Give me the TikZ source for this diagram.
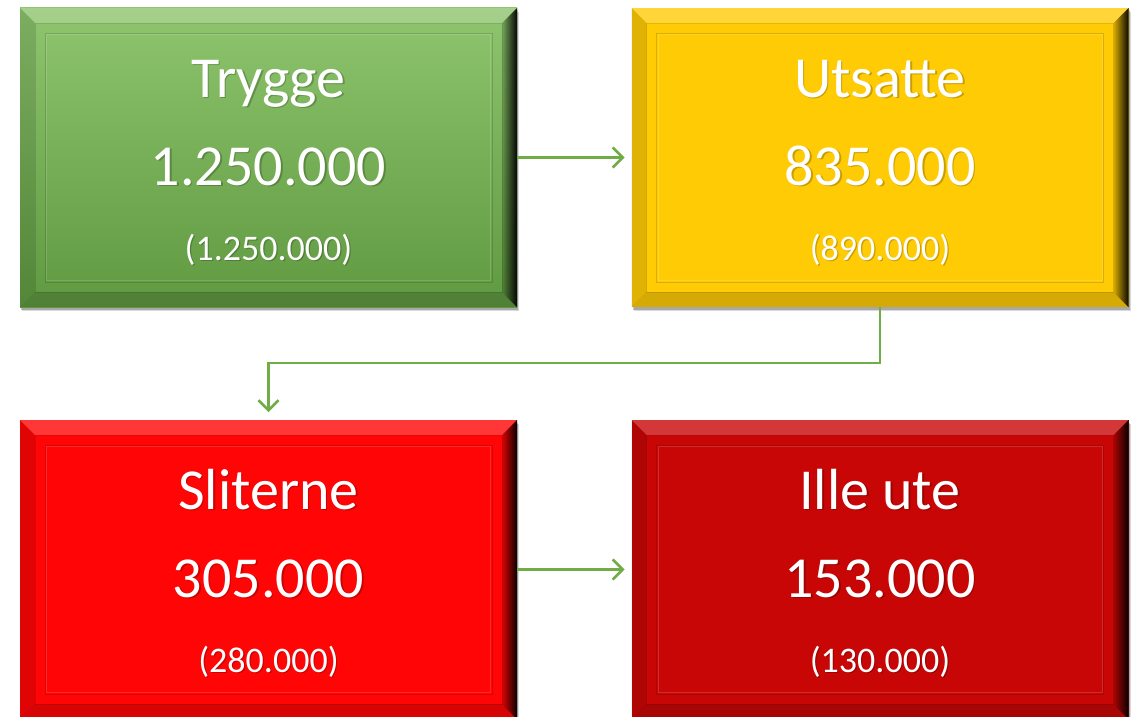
\documentclass[tikz,border=0pt]{standalone}
\usepackage{fontspec}
\setmainfont{Carlito}
\usetikzlibrary{calc,arrows.meta,shadows,fadings}
\definecolor{arrowgreen}{HTML}{70AD47}
\definecolor{gtop}{HTML}{8EC56E}
\definecolor{gbot}{HTML}{5F9940}
\definecolor{ymain}{HTML}{FFCB05}
\definecolor{rmain}{HTML}{FF0505}
\definecolor{dmain}{HTML}{C90606}
\tikzfading[name=fadeR, left color=transparent!100, right color=transparent!0]
\newcommand\paneltexts[4]{%
  \node[txtshadow, font=\fontsize{58}{60}\selectfont] (#1ts) at ([xshift=1.5pt,yshift=-90.5pt]#1.north) {#2};
  \node[txt, font=\fontsize{58}{60}\selectfont] (#1t) at ([yshift=-89pt]#1.north) {#2};
  \node[txtshadow, font=\fontsize{58}{60}\selectfont] (#1ns) at ([xshift=1.5pt,yshift=-178.5pt]#1.north) {#3};
  \node[txt, font=\fontsize{58}{60}\selectfont] (#1n) at ([yshift=-177pt]#1.north) {#3};
  \node[txtshadow, font=\fontsize{36}{40}\selectfont] (#1ps) at ([xshift=1.2pt,yshift=-253.2pt]#1.north) {#4};
  \node[txt, font=\fontsize{36}{40}\selectfont] (#1p) at ([yshift=-252pt]#1.north) {#4};
}
\begin{document}
\begin{tikzpicture}[x=1pt,y=1pt,
  panel/.style={rectangle, minimum width=497pt, minimum height=299pt, inner sep=0pt, outer sep=0pt,
    drop shadow={shadow xshift=2pt, shadow yshift=-4pt, opacity=0.15, fill=black},
    drop shadow={shadow xshift=1pt, shadow yshift=-2.5pt, opacity=0.22, fill=black}},
  txt/.style={anchor=base, inner sep=0pt, text=white},
  txtshadow/.style={anchor=base, inner sep=0pt, text=black, text opacity=0.22},
  conn/.style={draw=arrowgreen, line width=2.5pt, -{Straight Barb[length=10pt,width=20pt,line width=2.5pt]}}]
\useasboundingbox (0,0) rectangle (1140,-717);

\node[panel, top color=gtop, bottom color=gbot] (g) at (268.5,-157.5) {};
\node[panel, fill=ymain] (y) at (880,-157.5) {};
\node[panel, fill=rmain] (r) at (268.5,-569.5) {};
\node[panel, fill=dmain] (d) at (880,-569.5) {};

\foreach \n in {g,y,r,d}{
  % top bevel
  \fill[white, opacity=0.2] (\n.north west) -- (\n.north east) -- ($(\n.north east)+(-15,-15)$) -- ($(\n.north west)+(15,-15)$) -- cycle;
  % left bevel
  \fill[black, opacity=0.12] (\n.north west) -- ($(\n.north west)+(15,-15)$) -- ($(\n.south west)+(15,15)$) -- (\n.south west) -- cycle;
  % bottom bevel
  \fill[black, opacity=0.16] (\n.south west) -- ($(\n.south west)+(15,15)$) -- ($(\n.south east)+(-15,15)$) -- (\n.south east) -- cycle;
  % right bevel
  \fill[black, opacity=0.15] (\n.north east) -- ($(\n.north east)+(-15,-15)$) -- ($(\n.south east)+(-15,15)$) -- (\n.south east) -- cycle;
  \fill[black, path fading=fadeR, fill opacity=0.95] (\n.north east) -- ($(\n.north east)+(-15,-15)$) -- ($(\n.south east)+(-15,15)$) -- (\n.south east) -- cycle;
  % frames
  \draw[black, opacity=0.1, line width=0.8pt] ($(\n.north west)+(15,-15)$) rectangle ($(\n.south east)+(-15,15)$);
  \draw[black, opacity=0.14, line width=0.8pt] ($(\n.north west)+(25,-25)$) rectangle ($(\n.south east)+(-25,25)$);
  \draw[white, opacity=0.15, line width=0.8pt] ($(\n.north west)+(26.5,-26.5)$) rectangle ($(\n.south east)+(-26.5,26.5)$);
}

\paneltexts{g}{Trygge}{1.250.000}{(1.250.000)}
\paneltexts{y}{Utsatte}{835.000}{(890.000)}
\paneltexts{r}{Sliterne}{305.000}{(280.000)}
\paneltexts{d}{Ille ute}{153.000}{(130.000)}

\draw[conn] (g.east) -- ([xshift=-7pt]y.west);
\draw[conn] (y.south) -- ++(0,-56) -| ([yshift=8pt]r.north);
\draw[conn] (r.east) -- ([xshift=-7pt]d.west);
\end{tikzpicture}
\end{document}
